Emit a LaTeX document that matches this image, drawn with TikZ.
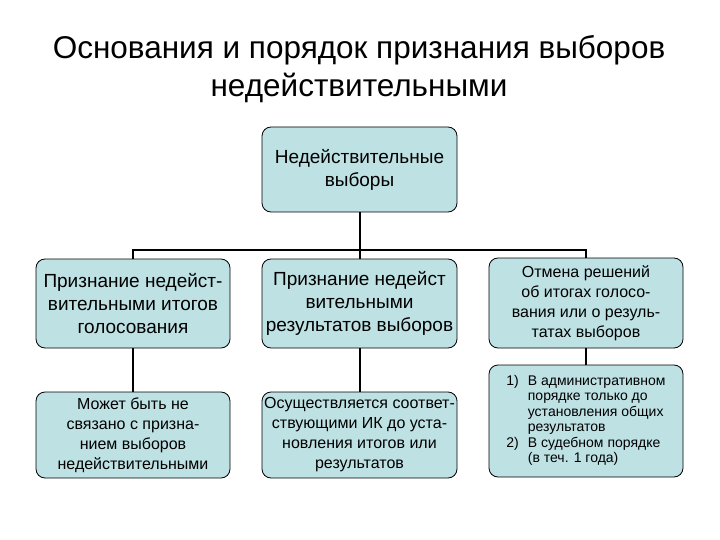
\documentclass[tikz,border=0pt]{standalone}
\usepackage{fontspec}
\setmainfont{Liberation Sans}
\begin{document}
\begin{tikzpicture}[x=1pt,y=-1pt,
 bx/.style={draw=black,line width=0.8pt,rounded corners=9pt,fill=boxfill,align=center,inner sep=0pt,font=\fontsize{19}{23}\selectfont},
 bxs/.style={bx,font=\fontsize{16}{20}\selectfont},
 ln/.style={line width=2pt}]
\definecolor{boxfill}{RGB}{190,225,228}
\useasboundingbox (0,0) rectangle (720,540);
\node[font=\fontsize{31.5}{38}\selectfont,align=center] (title) at (359,69) {Основания и порядок признания выборов\\недействительными};
\node[bx,minimum width=195pt,minimum height=85pt] (top) at (359.5,169.5) {Недействительные\\выборы};
\node[bx,minimum width=194pt,minimum height=89pt] (a1) at (133,303.5) {Признание недейст-\\вительными итогов\\голосования};
\node[bx,minimum width=195pt,minimum height=89pt] (b1) at (359.5,303.5) {Признание недейст\\вительными\\результатов выборов};
\node[bxs,minimum width=194pt,minimum height=90pt] (c1) at (586,303) {Отмена решений\\об итогах голосо-\\вания или о резуль-\\татах выборов};
\node[bxs,minimum width=194pt,minimum height=86pt] (a2) at (133,435) {Может быть не\\связано с призна-\\нием выборов\\недействительными};
\node[bxs,minimum width=195pt,minimum height=86pt] (b2) at (359.5,435) {Осуществляется соответ-\\ствующими ИК до уста-\\новления итогов или\\результатов};
\node[bx,minimum width=194pt,minimum height=112pt,font=\fontsize{14}{15.5}\selectfont] (c2) at (586,421) {\begin{tabular}{@{}l@{\hspace{9pt}}l@{}}1)&В административном\\&порядке только до\\&установления общих\\&результатов\\2)&В судебном порядке\\&(в теч. 1 года)\end{tabular}};
\coordinate (hl) at (133,250);
\coordinate (hr) at (586,250);
\draw[ln] (top.south) -- (top.south |- hl);
\draw[ln] (a1.north) -- (hl) -- (hr) -- (c1.north);
\draw[ln] (b1.north) -- (b1.north |- hl);
\draw[ln] (a1.south) -- (a2.north);
\draw[ln] (b1.south) -- (b2.north);
\draw[ln] (c1.south) -- (c2.north);
\end{tikzpicture}
\end{document}
